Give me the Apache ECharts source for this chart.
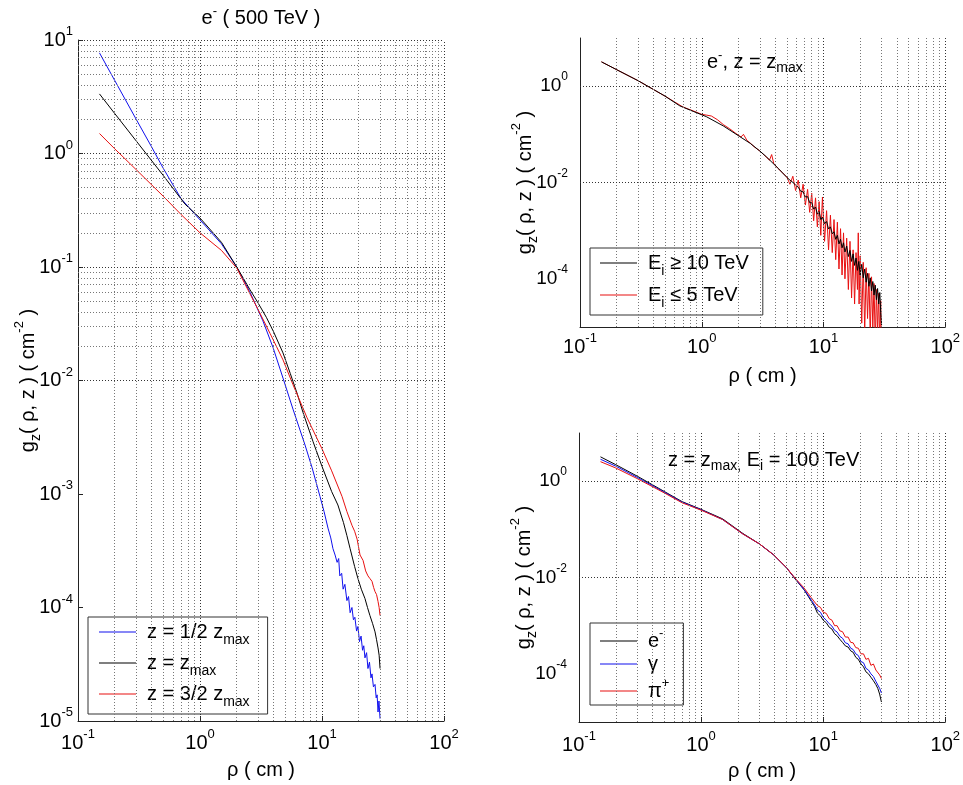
<!DOCTYPE html>
<html><head><meta charset="utf-8">
<script src="https://cdn.jsdelivr.net/npm/echarts@6/dist/echarts.min.js"></script>
<style>html,body{margin:0;padding:0;background:#fff}#c{width:963px;height:785px}</style>
</head><body><div id="c"></div>
<script>
// ---------------- tick / grid values ----------------
const xMajorGrid = [1, 10, 100];
const xMinorGrid = [0.2,0.3,0.4,0.5,0.6,0.7,0.8,0.9,2,3,4,5,6,7,8,9,20,30,40,50,60,70,80,90];
const yMajorGridL = [1e-4, 1e-3, 1e-2, 1e-1, 1, 10];
const yMinorGridL = [2e-5,3e-5,4e-5,5e-5,6e-5,7e-5,8e-5,9e-5,
  2e-4,3e-4,4e-4,5e-4,6e-4,7e-4,8e-4,9e-4,
  2e-3,3e-3,4e-3,5e-3,6e-3,7e-3,8e-3,9e-3,
  0.02,0.03,0.04,0.05,0.06,0.07,0.08,0.09,
  0.2,0.3,0.4,0.5,0.6,0.7,0.8,0.9,
  2,3,4,5,6,7,8,9];
const yGridR = [1e-4, 1e-2, 1];

// ---------------- left panel: e- (500 TeV) ----------------
const rhoBlueL = [0.15,0.2,0.3,0.4,0.5,0.7,1.0,1.5,2.0,2.57,3.28,3.97,4.79,5.78,7.26,8.3,9.63,10.4,11.2,11.8,12.3,12.8,13.3,13.7,14.0,14.5,14.9,15.4,16.0,16.5,17.0,17.6,18.1,18.6,19.2,19.7,20.3,20.9,21.5,22.0,22.5,23.2,23.8,24.5,25.2,25.7,26.4,27.2,27.8,28.3,28.8,29.3,29.9];
const gBlueL = [7.7,4.4,2.0,1.15,0.74,0.40,0.26,0.16,0.10,0.06,0.0335,0.0195,0.0105,0.0056,0.0027,0.0017,9.5e-4,7.0e-4,5.0e-4,4.1e-4,3.3e-4,2.9e-4,2.5e-4,2.7e-4,1.9e-4,2.0e-4,1.45e-4,1.6e-4,1.15e-4,1.25e-4,9.0e-5,1.0e-4,7.8e-5,8.2e-5,6.2e-5,6.8e-5,5.0e-5,5.6e-5,4.2e-5,4.6e-5,3.6e-5,4.0e-5,2.9e-5,3.3e-5,2.4e-5,2.6e-5,2.0e-5,2.1e-5,1.6e-5,1.7e-5,1.2e-5,1.5e-5,1.05e-5];

const rhoBlackL = [0.15,0.2,0.3,0.5,0.75,1.0,1.5,2.0,2.57,3.0,3.5,4.0,4.79,5.5,6.3,7.0,8.44,10,12,13.5,15,16,17,18.5,19.7,21,22.5,23.6,24.7,26,27.2,28,28.8,29.4,29.9];
const gBlackL = [3.35,2.25,1.29,0.64,0.36,0.27,0.165,0.1,0.063,0.048,0.036,0.027,0.0175,0.0115,0.0075,0.0052,0.0029,0.00175,0.00105,0.0008,0.00056,0.00043,0.00033,0.00023,0.00018,0.000145,0.00012,0.0001,0.000085,0.000072,0.000061,0.000052,0.000044,0.000038,0.000029];

const rhoRedL = [0.15,0.2,0.3,0.5,0.7,1.0,1.5,2.0,2.57,3.0,3.75,4.79,5.78,7.54,10,12,14.6,16,17.6,18.5,19.4,20.5,21.7,22.8,23.8,24.7,25.7,26.5,27.2,28.0,28.8,29.4,29.9];
const gRedL = [1.5,1.1,0.72,0.42,0.29,0.2,0.14,0.098,0.058,0.042,0.026,0.0152,0.0092,0.0047,0.0025,0.0016,0.00095,0.0007,0.00053,0.00047,0.0004,0.00029,0.00026,0.00021,0.00019,0.00018,0.00017,0.00015,0.000138,0.00013,0.000113,0.0001,0.000085];

// ---------------- top-right panel: e-, z = zmax ----------------
const rhoHiTR = [0.15,0.2,0.3,0.5,0.66,0.85,1.09,1.5,2.05,2.5,3.0,3.4,3.85,4.3,4.7,5.0,5.3,5.6,5.9,6.2,6.5,6.8,7.1,7.4,7.7,8.0,8.3,8.6,8.9,9.2,9.5,9.8,10.2,10.6,11.0,11.4,11.8,12.2,12.6,13.0,13.4,13.8,14.2,14.6,15.0,15.5,16.0,16.5,17.0,17.5,18.0,18.5,19.0,19.5,20.0,20.6,21.2,21.8,22.4,23.0,23.6,24.2,24.8,25.4,26.0,26.6,27.2,27.8,28.4,29.0,29.5,30.0];
const gHiTR = [3.2,2.2,1.3,0.62,0.39,0.3,0.233,0.15,0.09,0.065,0.045,0.034,0.025,0.019,0.015,0.0128,0.0112,0.0101,0.0088,0.0080,0.0066,0.0064,0.0050,0.0051,0.0038,0.0038,0.0028,0.0031,0.0022,0.0025,0.0017,0.0019,0.0014,0.00155,0.00108,0.00120,0.00086,0.00095,0.00066,0.00080,0.00053,0.00066,0.00044,0.00056,0.00036,0.00048,0.00029,0.00039,0.00023,0.00033,0.00019,0.00027,0.00015,0.00023,0.00012,0.00020,0.000105,0.00016,0.000085,0.00013,0.00007,0.000105,0.000056,0.000088,0.000046,0.000074,0.000037,0.000063,0.00003,0.000052,0.00002,0.000011];

const rhoLoTR = [0.15,0.2,0.3,0.5,0.7,0.9,1.0,1.1,1.2,1.35,1.5,1.7,1.9,2.1,2.2,2.35,2.5,2.7,3.0,3.3,3.6,3.75,3.9,4.2,4.6,5.0,5.3,5.6,5.9,6.2,6.5,6.8,7.1,7.4,7.7,8.0,8.3,8.6,8.9,9.2,9.5,9.8,10.2,10.6,11.0,11.4,11.8,12.2,12.6,13.0,13.4,13.8,14.2,14.6,15.0,15.5,16.0,16.5,17.0,17.5,18.0,18.5,19.0,19.3,19.6,20.0,20.6,21.2,21.8,22.4,23.0,23.6,24.2,24.8,25.4,26.0,26.6,27.2,27.8,28.4,29.0,29.5,30.0];
const gLoTR = [3.2,2.2,1.3,0.62,0.37,0.29,0.26,0.25,0.24,0.2,0.16,0.13,0.105,0.088,0.1,0.075,0.066,0.055,0.045,0.036,0.029,0.038,0.025,0.02,0.016,0.013,0.0092,0.0135,0.0068,0.0112,0.0048,0.0092,0.0034,0.0072,0.0024,0.0060,0.0016,0.0048,0.0012,0.0040,0.0008,0.0050,0.0006,0.0026,0.0004,0.0021,0.00035,0.0017,0.00025,0.0015,0.00016,0.0011,0.00012,0.0009,0.0001,0.0007,0.00006,0.0006,0.00004,0.0004,0.00003,0.00035,0.00006,0.0009,0.00003,0.0003,0.000012,0.00022,0.000008,0.00017,0.000015,0.00013,0.000006,0.00011,0.00001,0.00008,0.000004,0.00006,0.000008,0.00005,0.000004,0.000035,0.000003];

// ---------------- bottom-right panel: z = zmax, Ei = 100 TeV ----------------
const rhoBR = [0.15,0.2,0.3,0.5,0.7,1.0,1.5,2.2,3.0,3.9,5.0,6.0,7.0,8.0,8.5,9.0,9.5,10,10.6,11.2,11.8,12.4,13,13.7,14.4,15.2,16,16.8,17.6,18.5,19.4,20.4,21.4,22.4,23.5,24.6,25.8,27,28,29,30];
const gElecBR = [3.2,2.2,1.27,0.61,0.375,0.26,0.165,0.082,0.05,0.03,0.016,0.0088,0.0055,0.0032,0.0025,0.0018,0.0016,0.0013,0.00115,0.00093,0.00085,0.00068,0.00062,0.00052,0.00045,0.00038,0.00036,0.0003,0.00028,0.00022,0.0002,0.00016,0.00014,0.00011,0.0001,0.000085,0.000072,0.00006,0.00005,0.000038,0.000026];
const gGammaBR = [2.85,2.05,1.2,0.59,0.365,0.255,0.16,0.08,0.05,0.03,0.016,0.009,0.0056,0.0034,0.0027,0.0021,0.0019,0.0015,0.0013,0.0011,0.00098,0.0008,0.00074,0.0006,0.00055,0.00044,0.00042,0.00034,0.00032,0.00026,0.00024,0.00018,0.00017,0.00013,0.00012,0.0001,0.000088,0.00007,0.000064,0.00005,0.00004];
const gPionBR = [2.54,1.88,1.13,0.57,0.355,0.25,0.16,0.08,0.05,0.03,0.016,0.0092,0.006,0.0038,0.0031,0.0026,0.0024,0.0019,0.0018,0.0014,0.0013,0.001,0.001,0.00078,0.00075,0.00058,0.00058,0.00045,0.00044,0.00035,0.00034,0.00026,0.00026,0.0002,0.00021,0.00015,0.00016,0.00012,0.00012,0.000095,0.00008];

// ---------------- labels ----------------
const legendRich = {
  'z = 1/2 zmax': '{t|z = 1/2 z}{sub|max}',
  'z = zmax': '{t|z = z}{sub|max}',
  'z = 3/2 zmax': '{t|z = 3/2 z}{sub|max}',
  'Ei >= 10 TeV': '{t|E}{sub|i}{t| \u2265 10 TeV}',
  'Ei <= 5 TeV': '{t|E}{sub|i}{t| \u2264 5 TeV}',
  'e-': '{t|e}{sup|-}',
  'gamma': '{t|\u03b3}',
  'pi+': '{t|\u03c0}{sup|+}'
};

// ---------------- build ----------------
const FONT = "'Liberation Sans', Arial, sans-serif";
function rich(lh, fs) {
  fs = fs || 20;
  return {
    t: {fontFamily: FONT, fontSize: fs, color: '#000', lineHeight: lh},
    sup: {fontFamily: FONT, fontSize: Math.round(fs * 0.65), color: '#000', lineHeight: 12, verticalAlign: 'top'},
    sub: {fontFamily: FONT, fontSize: Math.round(fs * 0.7), color: '#000', lineHeight: 12, verticalAlign: 'bottom'}
  };
}
const zip = (xs, ys) => xs.map((x, i) => [x, ys[i]]);
const expLbl = (v) => '{t|10}{sup|' + Math.round(Math.log10(v)) + '}';
const expLblEven = (v) => { const e = Math.round(Math.log10(v)); return (e % 2 === 0) ? '{t|10}{sup|' + e + '}' : ''; };
const AX = '#222';
const yName = '{t|g}{sub|z}{t|( \u03c1, z ) ( cm}{sup|-2}{t| )}';
const xName = '{t|\u03c1 ( cm )}';

function xAxis(gi, margin) {
  return {
    type: 'log', logBase: 10, min: 0.1, max: 100, gridIndex: gi,
    axisLine: {show: true, lineStyle: {color: AX, width: 1}},
    axisTick: {show: true, inside: true, length: 5, lineStyle: {color: AX}},
    splitLine: {show: false}, minorTick: {show: false},
    axisLabel: {formatter: expLbl, margin: margin, rich: rich(30)},
    name: xName, nameLocation: 'middle', nameGap: 34, nameMoveOverlap: false, nameTextStyle: {rich: rich(30)}
  };
}
function yAxis(gi, fmt, margin, gap, ticks, fs) {
  return {
    type: 'log', logBase: 10, min: 1e-5, max: 10, gridIndex: gi,
    axisLine: {show: true, lineStyle: {color: AX, width: 1}},
    axisTick: {show: ticks, inside: true, length: 5, lineStyle: {color: AX}},
    splitLine: {show: false},
    axisLabel: {formatter: fmt, margin: margin, rich: rich(30, fs)},
    name: yName, nameLocation: 'middle', nameRotate: 90, nameGap: gap, nameMoveOverlap: false, nameTextStyle: {rich: rich(30)}
  };
}
function gridLines(gi, xsMajor, xsMinor, ysMajor, ysMinor) {
  const maj = {type: [1, 2], color: '#333', width: 1};
  const min = {type: [1, 2], color: '#777', width: 1};
  const d = [];
  xsMinor.forEach(v => d.push({xAxis: v, lineStyle: min}));
  ysMinor.forEach(v => d.push({yAxis: v, lineStyle: min}));
  xsMajor.forEach(v => d.push({xAxis: v, lineStyle: maj}));
  ysMajor.forEach(v => d.push({yAxis: v, lineStyle: maj}));
  return {
    type: 'line', name: '__grid' + gi, xAxisIndex: gi, yAxisIndex: gi, data: [], z: 1, silent: true,
    markLine: {silent: true, symbol: ['none', 'none'], label: {show: false}, animation: false, data: d}
  };
}
function line(gi, name, xs, ys, color) {
  return {
    type: 'line', name: name, xAxisIndex: gi, yAxisIndex: gi, data: zip(xs, ys),
    symbol: 'none', showSymbol: false, clip: true, z: 3,
    lineStyle: {width: 1, color: color}, itemStyle: {color: color}
  };
}
function legend(names, left, top, gap, pad, lh) {
  return {
    data: names, orient: 'vertical', left: left, top: top,
    icon: 'rect', itemWidth: 37, itemHeight: 1, itemGap: gap, padding: pad,
    backgroundColor: '#fff', borderColor: '#333', borderWidth: 1, borderRadius: 0,
    formatter: n => legendRich[n], textStyle: {padding: [0, 0, 0, 6], rich: rich(lh)}
  };
}
const BLUE = '#1010ee', RED = '#e81010', BLACK = '#000';

const chart = echarts.init(document.getElementById('c'), null, {renderer: 'canvas'});
chart.setOption({
  animation: false,
  backgroundColor: '#fff',
  grid: [
    {left: 78, top: 40, width: 366, height: 683},
    {left: 580, top: 38, width: 366, height: 289},
    {left: 579, top: 433, width: 367, height: 289}
  ],
  xAxis: [xAxis(0, 7), xAxis(1, 5), xAxis(2, 8)],
  yAxis: [yAxis(0, expLbl, 5, 35, true, 20), yAxis(1, expLblEven, 12, 40, false, 19), yAxis(2, expLblEven, 12, 40, false, 19)],
  legend: [
    legend(['z = 1/2 zmax', 'z = zmax', 'z = 3/2 zmax'], 88, 617, 6, [5, 18, 5, 11], 30),
    legend(['Ei >= 10 TeV', 'Ei <= 5 TeV'], 590, 248, 7, [5, 14, 5, 10], 30),
    legend(['e-', 'gamma', 'pi+'], 590, 623, 3, [4, 14, 4, 10], 28)
  ],
  graphic: [
    {type: 'text', x: 261, y: 18, style: {text: '{t|e}{sup|-}{t| ( 500 TeV )}', rich: rich(26), align: 'center', verticalAlign: 'middle'}},
    {type: 'text', x: 707, y: 62, style: {text: '{t|e}{sup|-}{t|, z = z}{sub|max}', rich: rich(26), align: 'left', verticalAlign: 'middle'}},
    {type: 'text', x: 668, y: 460, style: {text: '{t|z = z}{sub|max,}{t| E}{sub|i}{t| = 100 TeV}', rich: rich(26), align: 'left', verticalAlign: 'middle'}}
  ],
  series: [
    gridLines(0, xMajorGrid, xMinorGrid, yMajorGridL, yMinorGridL),
    gridLines(1, xMajorGrid, xMinorGrid, yGridR, []),
    gridLines(2, xMajorGrid, xMinorGrid, yGridR, []),
    line(0, 'z = 1/2 zmax', rhoBlueL, gBlueL, BLUE),
    line(0, 'z = zmax', rhoBlackL, gBlackL, BLACK),
    line(0, 'z = 3/2 zmax', rhoRedL, gRedL, RED),
    line(1, 'Ei <= 5 TeV', rhoLoTR, gLoTR, RED),
    line(1, 'Ei >= 10 TeV', rhoHiTR, gHiTR, BLACK),
    line(2, 'e-', rhoBR, gElecBR, BLACK),
    line(2, 'gamma', rhoBR, gGammaBR, BLUE),
    line(2, 'pi+', rhoBR, gPionBR, RED)
  ]
});
</script>
</body></html>
